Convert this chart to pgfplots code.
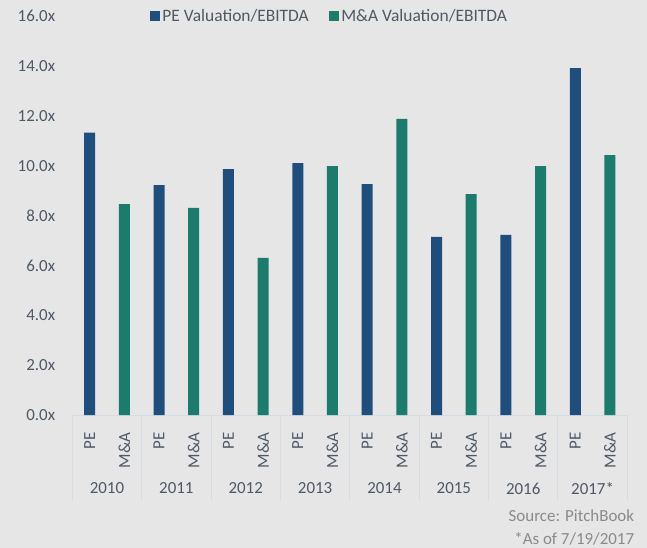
\documentclass[border=0pt]{standalone}
\usepackage{pgfplots}
\pgfplotsset{compat=1.18}
\usepackage{fontspec}
\setmainfont{Carlito}

\definecolor{bgcol}{HTML}{E6E6E6}
\definecolor{pecol}{HTML}{1F4E7D}
\definecolor{macol}{HTML}{1C7B6D}
\definecolor{txtcol}{HTML}{4F5866}
\definecolor{srccol}{HTML}{8A8A8A}
\definecolor{sepcol}{HTML}{D5DCE6}

\begin{document}
\begin{tikzpicture}
% page background, sized to the reference
\fill[bgcol] (-72.3bp,-133bp) rectangle (574.7bp,415bp);
\begin{axis}[
  at={(0,0)}, anchor=south west,
  scale only axis, width=555bp, height=399bp,
  ybar, bar shift=0pt, bar width=0.317,
  xmin=-0.5, xmax=15.5, ymin=0, ymax=16,
  axis x line*=bottom, axis y line*=left,
  x axis line style={draw=sepcol, line width=0.9bp, -},
  y axis line style={draw=none},
  xtick={0,...,15},
  xticklabels={PE,M\&A,PE,M\&A,PE,M\&A,PE,M\&A,PE,M\&A,PE,M\&A,PE,M\&A,PE,M\&A},
  xtick style={draw=none}, ytick style={draw=none},
  xticklabel style={rotate=90, anchor=east, inner sep=0pt, font=\fontsize{17}{20}\selectfont, text=txtcol},
  xticklabel shift=13bp,
  ytick={0,2,...,16},
  yticklabel={\pgfmathprintnumber[fixed,fixed zerofill,precision=1]{\tick}x},
  yticklabel style={anchor=east, inner sep=0pt, font=\fontsize{17}{20}\selectfont, text=txtcol},
  yticklabel shift=17bp,
  /pgf/number format/assume math mode=true,
  legend columns=-1,
  legend style={at={(0.4634,1)}, anchor=center, draw=none, fill=none,
    font=\fontsize{17.5}{20}\selectfont, text=txtcol,
    /tikz/every even column/.append style={column sep=18bp}},
  clip=false,
]
\addplot[fill=pecol, draw=none,
  legend image code/.code={\fill[pecol] (-2bp,-5.25bp) rectangle (8.5bp,5.25bp);}]
  coordinates {(0,11.32) (2,9.22) (4,9.86) (6,10.10) (8,9.26) (10,7.14) (12,7.22) (14,13.91)};
\addplot[fill=macol, draw=none,
  legend image code/.code={\fill[macol] (-2bp,-5.25bp) rectangle (8.5bp,5.25bp);}]
  coordinates {(1,8.46) (3,8.31) (5,6.30) (7,9.98) (9,11.87) (11,8.86) (13,9.98) (15,10.42)};
\legend{PE Valuation/EBITDA, M\&A Valuation/EBITDA}

\pgfplotsinvokeforeach{-0.5,1.5,3.5,5.5,7.5,9.5,11.5,13.5,15.5}{
  \draw[sepcol, line width=0.9bp] (axis cs:#1,0) -- ([yshift=-85bp]axis cs:#1,0);
}
\begin{scope}[font=\fontsize{17}{20}\selectfont, text=txtcol]
\node at (axis cs:0.5,0) [yshift=-73.5bp] {2010};
\node at (axis cs:2.5,0) [yshift=-73.5bp] {2011};
\node at (axis cs:4.5,0) [yshift=-73.5bp] {2012};
\node at (axis cs:6.5,0) [yshift=-73.5bp] {2013};
\node at (axis cs:8.5,0) [yshift=-73.5bp] {2014};
\node at (axis cs:10.5,0) [yshift=-73.5bp] {2015};
\node at (axis cs:12.5,0) [yshift=-73.5bp] {2016};
\node at (axis cs:14.5,0) [yshift=-73.5bp] {2017*};
\end{scope}
\node[anchor=east, inner sep=0pt, text=srccol, font=\fontsize{17}{20}\selectfont]
  at (axis cs:15.5,0) [xshift=7bp, yshift=-101bp] {Source: PitchBook};
\node[anchor=east, inner sep=0pt, text=srccol, font=\fontsize{17}{20}\selectfont]
  at (axis cs:15.5,0) [xshift=7bp, yshift=-124bp] {*As of 7/19/2017};
\end{axis}
\end{tikzpicture}
\end{document}
